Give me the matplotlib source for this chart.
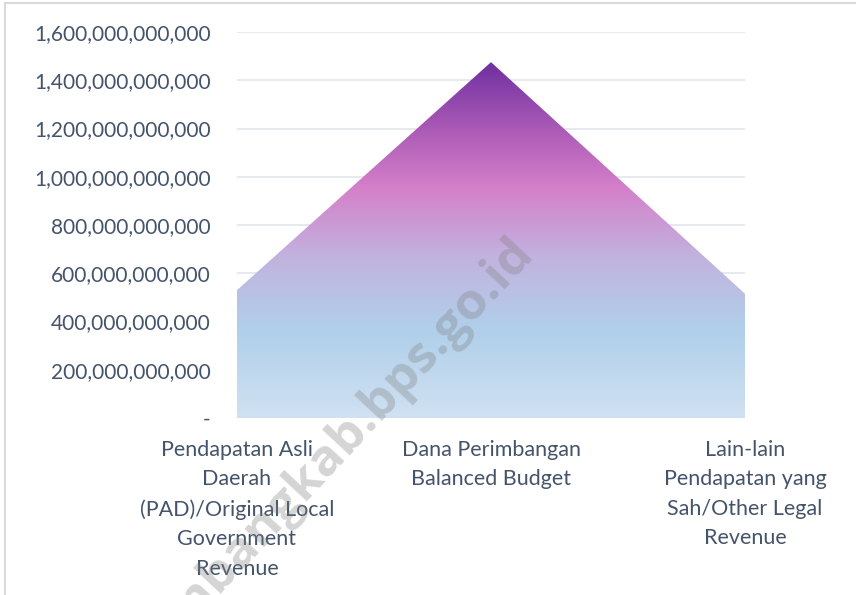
import numpy as np
import matplotlib
matplotlib.use("Agg")
import matplotlib.pyplot as plt
from matplotlib.colors import LinearSegmentedColormap
from matplotlib.patches import Rectangle
from matplotlib.ticker import FuncFormatter, MultipleLocator

categories = [
    "Pendapatan Asli\nDaerah\n(PAD)/Original Local\nGovernment\nRevenue",
    "Dana Perimbangan\nBalanced Budget",
    "Lain-lain\nPendapatan yang\nSah/Other Legal\nRevenue",
]
values = [530e9, 1475e9, 515e9]
y_max = 1600e9
y_step = 200e9
watermark = "rembangkab.bps.go.id"

text_color = "#44546A"
grid_color = "#E1E5EA"

plt.rcParams['font.family'] = ['Lato', 'DejaVu Sans']

fig = plt.figure(figsize=(8.56, 5.95), dpi=100)
ax = fig.add_axes([237/856, 1-418/595, (745-237)/856, (418-32)/595])

x = np.arange(len(values))
poly = ax.fill_between(x, 0, values, facecolor='none', edgecolor='none')

cmap = LinearSegmentedColormap.from_list(
    "grad",
    [(0.0, "#D0E1F2"), (0.25, "#B0CFEA"), (0.45, "#C2B3DF"),
     (0.65, "#D47FC9"), (0.8, "#AE5DB8"), (1.0, "#7030A0")])
grad = np.linspace(0, 1, 256).reshape(-1, 1)
im = ax.imshow(grad, cmap=cmap, origin='lower', aspect='auto',
               extent=[0, 2, 0, max(values)], zorder=2, interpolation='bilinear')
path = poly.get_paths()[0]
im.set_clip_path(path, transform=ax.transData)

ax.set_xlim(0, 2)
ax.set_ylim(0, y_max)
ax.yaxis.set_major_locator(MultipleLocator(y_step))
ax.yaxis.set_major_formatter(FuncFormatter(lambda v, p: "-" if v == 0 else f"{v:,.0f}"))
ax.grid(axis='y', color=grid_color, linewidth=1.2, zorder=0)
ax.set_axisbelow(True)
for s in ax.spines.values():
    s.set_visible(False)
ax.tick_params(axis='both', length=0, colors=text_color)
ax.tick_params(axis='y', pad=19, labelsize=15)
ax.tick_params(axis='x', pad=15.5, labelsize=15.5)
ax.set_xticks(x)
ax.set_xticklabels(categories, linespacing=1.6)
for lbl in ax.get_yticklabels() + ax.get_xticklabels():
    lbl.set_color(text_color)

# figure border
fig.patches.append(Rectangle((5/856, -0.1), 1.2, 1.1 - 3/595, transform=fig.transFigure,
                             fill=False, edgecolor="#D9D9D9", linewidth=1.5))

fig.text(534/856, 1-254/595, watermark, rotation=47, rotation_mode='anchor',
         ha='right', va='baseline',
         fontsize=37, fontweight='bold', color='#808080', alpha=0.33,
         family=['Open Sans', 'DejaVu Sans'], zorder=10)

fig.savefig("out.png", dpi=100)
